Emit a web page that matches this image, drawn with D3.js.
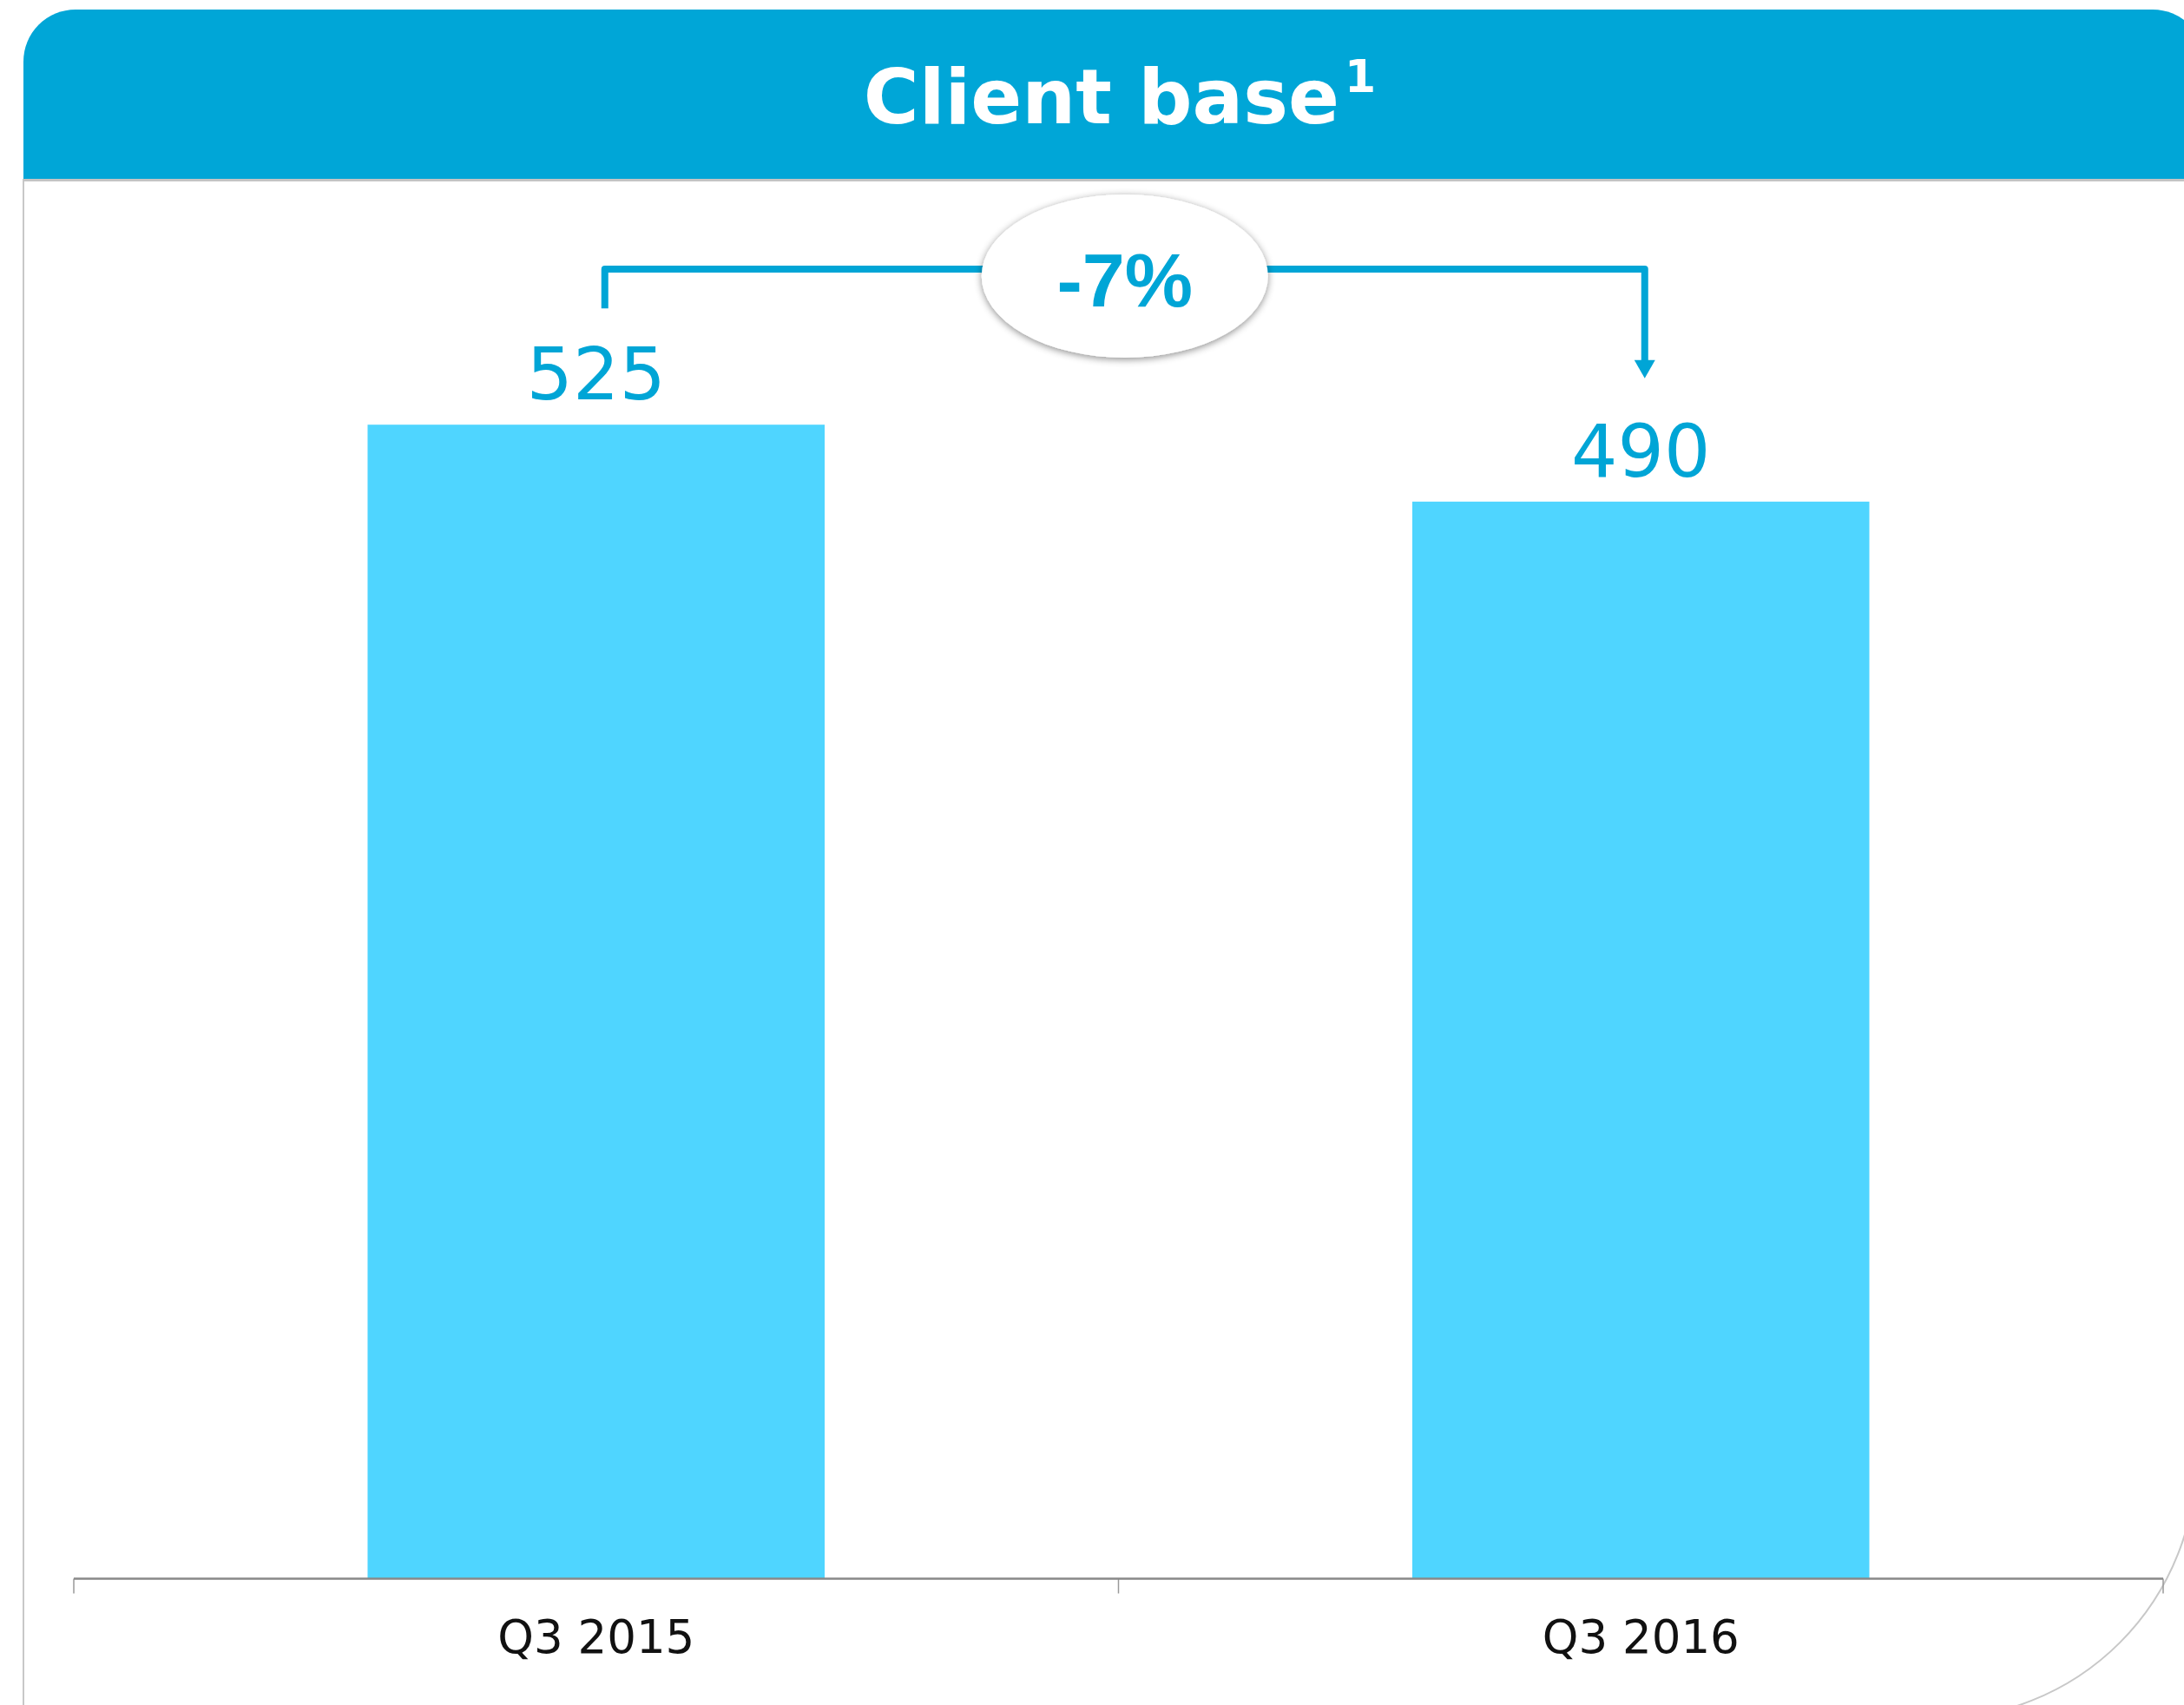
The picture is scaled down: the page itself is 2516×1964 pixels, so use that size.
<!DOCTYPE html>
<html>
<head>
<meta charset="utf-8">
<script src="https://cdn.jsdelivr.net/npm/d3@7"></script>
<style>
  html, body { margin: 0; padding: 0; background: #ffffff; }
  svg { display: block; }
</style>
</head>
<body>
<svg id="chart" width="2516" height="1964"></svg>
<script>
// ---- data ----
const categories = ["Q3 2015", "Q3 2016"];
const values = [525, 490];
const changeLabel = "-7%";
const titleText = "Client base";
const titleSup = "1";

// ---- setup ----
const W = 2516, H = 1964;
const svg = d3.select("#chart");
const BLUE = "#00a6d7";
const BAR = "#4fd5ff";
const TXT = "#00a5d6";

const defs = svg.append("defs");
const f = defs.append("filter").attr("id", "shadow")
  .attr("x", "-20%").attr("y", "-20%").attr("width", "140%").attr("height", "150%");
f.append("feDropShadow").attr("dx", 0).attr("dy", 2).attr("stdDeviation", 4)
  .attr("flood-color", "#000").attr("flood-opacity", 0.45);

// panel outline (left border + large rounded bottom-right corner)
svg.append("path")
  .attr("d", "M27,206 L27,1964 M2530,206 L2530,1680 A300,300 0 0 1 2230,1980")
  .attr("fill", "none").attr("stroke", "#c8c8c8").attr("stroke-width", 2);

// header shadow
svg.append("rect").attr("x", 27).attr("y", 205).attr("width", W).attr("height", 4)
  .attr("fill", "#c4c4c4");

// header band with rounded top corners
const hx0 = 27, hx1 = 2540, hy0 = 11, hy1 = 206, r = 60;
svg.append("path")
  .attr("d", `M${hx0},${hy1} L${hx0},${hy0 + r} A${r},${r} 0 0 1 ${hx0 + r},${hy0} L${hx1 - r},${hy0} A${r},${r} 0 0 1 ${hx1},${hy0 + r} L${hx1},${hy1} Z`)
  .attr("fill", BLUE);

const title = svg.append("text")
  .attr("x", 1290).attr("y", 142)
  .attr("text-anchor", "middle")
  .attr("font-family", "DejaVu Sans, sans-serif")
  .attr("font-weight", "bold")
  .attr("font-size", 87)
  .attr("fill", "#ffffff");
title.append("tspan").text(titleText);
title.append("tspan").attr("font-size", 52).attr("dy", -36).attr("dx", 6).text(titleSup);

// ---- scales ----
const x = d3.scaleBand().domain(categories).range([85, 2492])
  .paddingInner(0.5625).paddingOuter(0.28125);
const y = d3.scaleLinear().domain([0, 600]).range([1818.5, 299.3]);

// bars
svg.append("g").selectAll("rect").data(values).join("rect")
  .attr("x", (d, i) => x(categories[i]))
  .attr("y", d => y(d))
  .attr("width", x.bandwidth())
  .attr("height", d => y(0) - y(d))
  .attr("fill", BAR);

// value labels
svg.append("g").selectAll("text").data(values).join("text")
  .attr("x", (d, i) => x(categories[i]) + x.bandwidth() / 2)
  .attr("y", d => y(d) - 29)
  .attr("text-anchor", "middle")
  .attr("font-family", "DejaVu Sans, sans-serif")
  .attr("font-size", 84)
  .attr("fill", TXT)
  .text(d => d);

// axis
const axisY = y(0);
const axis = d3.axisBottom(x).tickSizeInner(0).tickSizeOuter(0).tickPadding(48);
const ag = svg.append("g").attr("transform", `translate(0,${axisY})`).call(axis);
ag.select(".domain").remove();
ag.selectAll("text")
  .attr("font-family", "DejaVu Sans, sans-serif")
  .attr("font-size", 53)
  .attr("fill", "#111");

const step = x.step();
const bounds = [x(categories[0]) + x.bandwidth() / 2 - step / 2]
  .concat(categories.map(c => x(c) + x.bandwidth() / 2 + step / 2));
svg.append("g").selectAll("line").data(bounds).join("line")
  .attr("x1", d => d).attr("x2", d => d)
  .attr("y1", axisY).attr("y2", axisY + 17)
  .attr("stroke", "#999").attr("stroke-width", 1.5);
svg.append("line")
  .attr("x1", bounds[0]).attr("x2", bounds[bounds.length - 1])
  .attr("y1", axisY).attr("y2", axisY)
  .attr("stroke", "#888").attr("stroke-width", 2.5);

// change bracket
const c0 = x(categories[0]) + x.bandwidth() / 2 + 10;
const c1 = x(categories[1]) + x.bandwidth() / 2 + 4.5;
const by = 310;
svg.append("path")
  .attr("d", `M${c0},${y(values[0]) - 134} L${c0},${by} L${c1},${by} L${c1},${y(values[1]) - 160}`)
  .attr("fill", "none").attr("stroke", TXT).attr("stroke-width", 8)
  .attr("stroke-linejoin", "round");
const tipY = y(values[1]) - 142;
svg.append("path")
  .attr("d", `M${c1 - 12},${tipY - 21} L${c1 + 12},${tipY - 21} L${c1},${tipY} Z`)
  .attr("fill", TXT);

// bubble
const ex = (c0 + c1) / 2;
svg.append("ellipse")
  .attr("cx", ex).attr("cy", 318).attr("rx", 165).attr("ry", 94)
  .attr("fill", "#ffffff").attr("filter", "url(#shadow)");
svg.append("text")
  .attr("x", ex).attr("y", 353)
  .attr("text-anchor", "middle")
  .attr("font-family", "Liberation Sans, Arial, sans-serif")
  .attr("font-weight", "bold")
  .attr("font-size", 88)
  .attr("fill", TXT)
  .text(changeLabel);
</script>
</body>
</html>
